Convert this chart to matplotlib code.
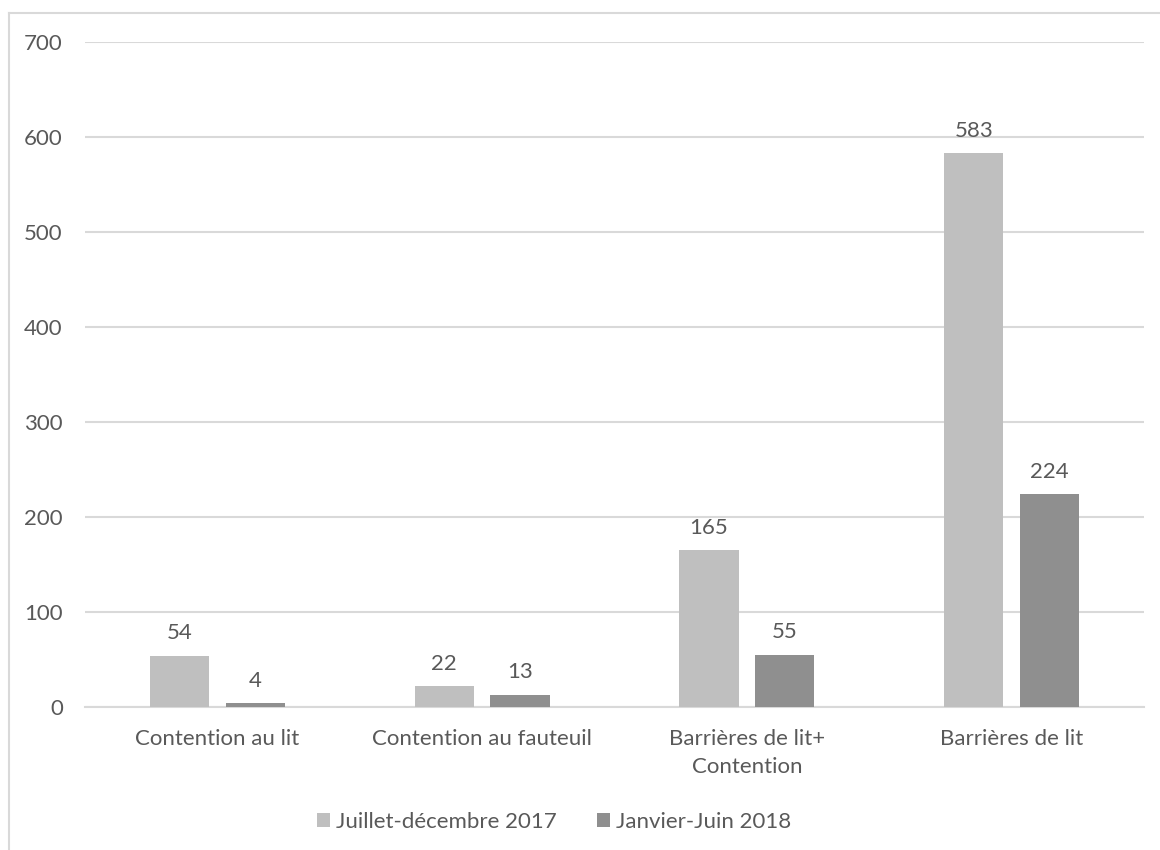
import numpy as np
import matplotlib.pyplot as plt
from matplotlib.lines import Line2D

categories = ['Contention au lit', 'Contention au fauteuil',
              'Barrières de lit+\nContention', 'Barrières de lit']
series_names = ['Juillet-décembre 2017', 'Janvier-Juin 2018']
values_2017 = [54, 22, 165, 583]
values_2018 = [4, 13, 55, 224]
yticks = [0, 100, 200, 300, 400, 500, 600, 700]

plt.rcParams['font.family'] = ['Lato', 'DejaVu Sans']
TXT = '#595959'
GRID = '#D9D9D9'
FS = 16

fig = plt.figure(figsize=(11.6, 8.5), dpi=100)
ax = fig.add_axes([85 / 1160, 1 - 707 / 850, (1144 - 85) / 1160, (707 - 42) / 850])

x = np.arange(len(categories))
w = 0.223
off = 0.143
b1 = ax.bar(x - off, values_2017, w, color='#BFBFBF', label=series_names[0], zorder=3)
b2 = ax.bar(x + off, values_2018, w, color='#8F8F8F', label=series_names[1], zorder=3)

for bars in (b1, b2):
    for rect in bars:
        h = rect.get_height()
        ax.annotate('%d' % h, (rect.get_x() + rect.get_width() / 2, h),
                    xytext=(0, 9), textcoords='offset points',
                    ha='center', va='bottom', fontsize=FS, color=TXT)

ax.set_xlim(-0.5, len(categories) - 0.5)
ax.set_ylim(0, 700)
ax.set_yticks(yticks)
ax.set_xticks(x)
ax.set_xticklabels(categories, linespacing=1.5)
ax.yaxis.grid(True, color=GRID, linewidth=1.5, zorder=0)
for s in ['top', 'right', 'left']:
    ax.spines[s].set_visible(False)
ax.spines['bottom'].set_color(GRID)
ax.spines['bottom'].set_linewidth(1.5)
ax.tick_params(axis='both', length=0, labelsize=FS, labelcolor=TXT)
ax.tick_params(axis='x', pad=16)
ax.tick_params(axis='y', pad=16)

# outer chart frame (only left and top are visible in the crop)
fig.add_artist(Line2D([9 / 1160, 9 / 1160], [0, 1 - 13 / 850], color=GRID,
                      linewidth=1.5, transform=fig.transFigure))
fig.add_artist(Line2D([9 / 1160, 1], [1 - 13 / 850, 1 - 13 / 850], color=GRID,
                      linewidth=1.5, transform=fig.transFigure))

fig.legend(loc='center', bbox_to_anchor=(554 / 1160, 1 - 822 / 850), ncol=2,
           frameon=False, fontsize=FS, labelcolor=TXT, handlelength=0.6,
           handleheight=0.6, handletextpad=0.25, columnspacing=1.8)

fig.savefig('out.png', dpi=100)
